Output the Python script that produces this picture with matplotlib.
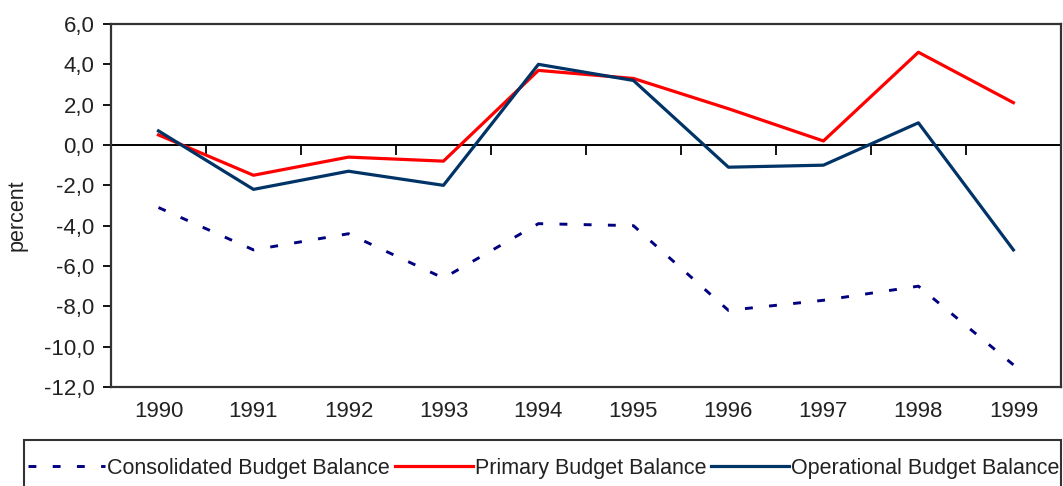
#%%
# Budget balances 1990-1999, recreated with matplotlib
import numpy as np
import matplotlib.pyplot as plt
from matplotlib.ticker import FuncFormatter
from matplotlib.patches import Rectangle

plt.rcParams['font.family'] = ['Liberation Sans', 'DejaVu Sans']

# Data
years = ['1990', '1991', '1992', '1993', '1994', '1995', '1996', '1997', '1998', '1999']
consolidated = [-3.1, -5.2, -4.4, -6.6, -3.9, -4.0, -8.2, -7.7, -7.0, -10.9]
primary = [0.5, -1.5, -0.6, -0.8, 3.7, 3.3, 1.8, 0.2, 4.6, 2.1]
operational = [0.7, -2.2, -1.3, -2.0, 4.0, 3.2, -1.1, -1.0, 1.1, -5.2]
y_ticks = [-12, -10, -8, -6, -4, -2, 0, 2, 4, 6]

fig = plt.figure(figsize=(10.63, 4.86), dpi=100)
ax = fig.add_axes([0.1044, 0.2037, 0.8936, 0.7469])

x = np.arange(len(years))
ax.plot(x, consolidated, color='#000080', lw=2.1, linestyle=(0, (2.7, 5.6)),
        label='Consolidated Budget Balance')
ax.plot(x, primary, color='#ff0000', lw=2.3, label='Primary Budget Balance')
ax.plot(x, operational, color='#003366', lw=2.3, label='Operational Budget Balance')

ax.set_xlim(-0.5, len(years) - 0.5)
ax.set_ylim(-12, 6)

# category labels at bottom, no ticks there
ax.set_xticks(x)
ax.set_xticklabels(years)
ax.tick_params(axis='x', length=0, pad=10, labelsize=16, colors='#222222')

ax.set_yticks(y_ticks)
ax.yaxis.set_major_formatter(FuncFormatter(lambda v, p: f'{v:.1f}'.replace('.', ',')))
ax.tick_params(axis='y', direction='out', length=6, width=1.3, pad=6,
               labelsize=16, labelcolor='#222222')
ax.set_ylabel('percent', fontsize=15.5, color='#222222')
ax.yaxis.set_label_coords(-0.088, 0.474)

for s in ax.spines.values():
    s.set_color('#333333')
    s.set_linewidth(1.6)

# zero axis with ticks between categories
zero_ax = ax.secondary_xaxis(0, transform=ax.transData)
zero_ax.set_xticks(np.arange(-0.5, len(years), 1.0))
zero_ax.set_xticklabels([])
zero_ax.tick_params(direction='out', length=7, width=1.3, color='black')
zero_ax.spines['bottom'].set_color('black')
zero_ax.spines['bottom'].set_linewidth(1.4)

# legend row, frame drawn separately (it runs off the bottom of the image)
leg = fig.legend(loc='center left', bbox_to_anchor=(0.0263, 0.037), ncol=3,
                 fontsize=15.5, frameon=False,
                 handlelength=3.6, handletextpad=0.08, columnspacing=0.25,
                 borderpad=0, borderaxespad=0)
for t in leg.get_texts():
    t.set_color('#222222')
fig.patches.append(Rectangle((0.0226, -0.1), 0.9755, 0.1947, transform=fig.transFigure,
                             fill=False, edgecolor='#333333', lw=1.5))

fig.savefig('out.png', dpi=100)
